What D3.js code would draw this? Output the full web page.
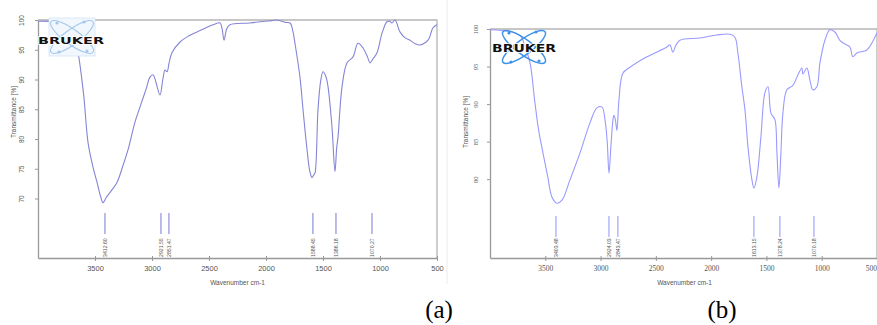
<!DOCTYPE html>
<html><head><meta charset="utf-8">
<script src="https://cdn.jsdelivr.net/npm/d3@7"></script>
<style>body{margin:0;background:#fff}svg{display:block}</style>
</head><body>
<svg id="c" width="877" height="325"></svg>
<script>
// ---------- DATA ----------
const waveA = [4000,3800,3720,3680,3649,3600,3561,3520,3482,3450,3430,3400,3350,3307,3250,3210,3150,3105,3050,3018,2991,2965,2930,2905,2886,2868,2850,2825,2754,2680,2605,2465,2403,2385,2368,2345,2316,2140,1950,1904,1830,1789,1763,1746,1702,1675,1640,1615,1596,1580,1570,1544,1520,1500,1475,1456,1421,1395,1380,1368,1333,1289,1237,1193,1149,1110,1088,1060,1026,982,939,915,895,868,825,780,737,690,649,579,535,500];
const transA = [99.8,99.5,98.3,96.8,94.5,87.5,79.4,75.5,72.7,70.3,69.3,70.2,71.5,72.7,75.8,78.2,82.8,85.4,88.5,90.4,90.8,89.5,87.4,90.0,91.6,91.3,92.8,94.5,96.3,97.3,98.0,99.2,99.5,98.5,96.6,98.5,99.2,99.5,99.9,100,99.6,99.5,98.0,96.1,90.4,84.9,78.2,74.5,73.5,74.0,74.3,84.9,89.8,91.3,90.5,88.8,82.0,74.5,78.5,80.4,88.8,92.8,93.8,96.1,95.3,93.8,92.8,93.5,94.5,97.8,99.7,99.8,99.5,100,98.0,97.0,96.6,96.0,95.8,96.6,98.7,99.2];
const peaksA = [3412.60, 2921.55, 2851.47, 1588.45, 1386.18, 1070.27];

const waveB = [4000,3800,3720,3680,3638,3593,3560,3521,3480,3439,3394,3349,3277,3186,3096,3033,2987,2960,2940,2924,2906,2888,2879,2866,2852,2834,2798,2734,2581,2400,2373,2346,2320,2282,2101,1948,1830,1785,1758,1722,1694,1667,1631,1613,1586,1550,1514,1486,1459,1423,1405,1387,1369,1351,1315,1260,1215,1179,1170,1134,1107,1080,1044,1016,971,926,881,836,790,745,718,682,592,540,500];
const transB = [99.9,99.6,99.0,97.5,95.5,90.1,86.5,83.5,80.5,77.6,76.8,77.2,79.9,83.5,87.5,89.5,89.6,87.9,85.0,80.8,84.5,87.9,88.5,87.9,86.5,90.5,94.1,94.9,96.3,97.6,97.9,96.9,97.8,98.5,98.8,99.2,99.3,98.9,96.8,92.3,89.2,84.3,79.9,78.8,80.3,85.6,91.5,92.3,88.8,87.9,83.5,78.8,83.5,88.8,91.9,92.5,93.9,94.8,94.0,94.8,93.2,91.9,92.3,95.5,98.5,99.9,99.6,98.5,98.0,97.6,96.3,96.8,97.2,98.3,99.5];
const peaksB = [3403.48, 2924.03, 2843.47, 1613.15, 1378.24, 1070.18];

const xTicks = [3500,3000,2500,2000,1500,1000,500];
const yTicksA = [100,95,90,85,80,75,70];
const yTicksB = [100,95,90,85,80];
const xTitle = "Wavenumber cm-1";
const yTitle = "Transmittance [%]";
const captions = ["(a)", "(b)"];

// ---------- DRAW ----------
const svg = d3.select("#c");

// faint separator between the two images
svg.append("line").attr("x1",447).attr("x2",447).attr("y1",0).attr("y2",284)
  .attr("stroke","#ececec").attr("stroke-width",1);

function panel(cfg){
  const {waves, trans, peaks, x0, x1, yTop, yBot, yDom, yTicks, color, font, logo} = cfg;
  const x = d3.scaleLinear().domain([4000,500]).range([x0,x1]);
  const y = d3.scaleLinear().domain(yDom).range([yBot,yTop]);
  const g = svg.append("g");

  // frame (top/right)
  g.append("path").attr("d",`M${x0},${yTop}H${x1}V${yBot}`)
    .attr("fill","none").attr("stroke","#b5b5b5").attr("stroke-width",1.3);

  // x axis
  const xa = g.append("g").attr("transform",`translate(0,${yBot})`)
    .call(d3.axisBottom(x).tickValues(xTicks).tickSize(3).tickSizeOuter(0).tickFormat(d3.format("d")));
  xa.select(".domain").attr("stroke","#999").attr("stroke-width",1.3);
  xa.selectAll(".tick line").attr("stroke","#999").attr("y1",-2);
  xa.selectAll(".tick text").attr("font-family",font).attr("font-size",7.5).attr("fill","#555").attr("dy","0.9em");
  if (cfg.lastEnd) {
    xa.selectAll(".tick text").filter(d=>d===500).attr("text-anchor","end").attr("x",877-x(500)-0.5);
  }

  // y axis
  const ya = g.append("g").attr("transform",`translate(${x0},0)`)
    .call(d3.axisLeft(y).tickValues(yTicks).tickSize(3).tickSizeOuter(0).tickFormat(d3.format("d")));
  ya.select(".domain").attr("stroke","#999").attr("stroke-width",1.3);
  ya.selectAll(".tick line").attr("stroke","#999");
  ya.selectAll(".tick text").attr("font-family",font).attr("font-size",6.5).attr("fill","#555")
    .attr("text-anchor","middle").attr("x",0).attr("dy",0)
    .attr("transform",`translate(${cfg.yLabDx},0) rotate(-90)`);

  // axis titles
  g.append("text").attr("x",(x0+x1)/2 - cfg.titleShift).attr("y",yBot+27)
    .attr("text-anchor","middle").attr("font-family","Liberation Sans, Arial, sans-serif")
    .attr("font-size",6.5).attr("fill","#555").text(xTitle);
  g.append("text").attr("transform",`translate(${x0-22},${cfg.yTitleY}) rotate(-90)`)
    .attr("text-anchor","middle").attr("font-family","Liberation Sans, Arial, sans-serif")
    .attr("font-size",6.5).attr("fill","#555").text(yTitle);

  // spectrum
  const line = d3.line().x((d,i)=>x(waves[i])).y((d,i)=>y(trans[i])).curve(d3.curveCatmullRom.alpha(0.5));
  g.append("path").datum(trans).attr("d",line).attr("fill","none")
    .attr("stroke",color).attr("stroke-width",1.1).attr("stroke-linejoin","round");

  // peak markers
  const pk = g.selectAll(".pk").data(peaks).join("g").attr("transform",d=>`translate(${x(d)},0)`);
  pk.append("line").attr("y1",cfg.pkTop).attr("y2",cfg.pkTop+21).attr("stroke",color).attr("stroke-width",1.1);
  pk.append("text").attr("transform",`translate(2,${yBot-1}) rotate(-90)`)
    .attr("font-family","Liberation Sans, Arial, sans-serif").attr("font-size",5.2).attr("fill","#555")
    .text(d=>d.toFixed(2));

  // logo
  const L = g.append("g").attr("transform",`translate(${logo.cx},${logo.cy})`);
  if (logo.box) {
    L.append("rect").attr("x",-23).attr("y",-19).attr("width",46).attr("height",38)
      .attr("fill","#f1f7fd").attr("stroke","#d3e4f5").attr("stroke-width",0.8);
  }
  [-36, 36].forEach(a=>{
    L.append("ellipse").attr("rx",26).attr("ry",7.5).attr("transform",`rotate(${a})`)
      .attr("fill","none").attr("stroke",logo.color).attr("stroke-width",logo.sw);
  });
  [[-15,-14],[15,14],[-13,15],[12,-15]].forEach(p=>{
    L.append("circle").attr("cx",p[0]).attr("cy",p[1]).attr("r",1.6).attr("fill",logo.color);
  });
  g.append("text").attr("x",logo.tx).attr("y",logo.ty).attr("textLength",logo.tw).attr("lengthAdjust","spacingAndGlyphs")
    .attr("font-family","DejaVu Sans, sans-serif").attr("font-weight","bold")
    .attr("font-size",logo.fs).attr("fill","#111")
    .attr("stroke","#fff").attr("stroke-width",1.5).attr("paint-order","stroke")
    .text("BRUKER");
}

panel({waves:waveA, trans:transA, peaks:peaksA, x0:38, x1:437, yTop:20, yBot:258, yDom:[60,100],
  yTicks:yTicksA, color:"#8585d6", font:"Liberation Sans, Arial, sans-serif", titleShift:0, yTitleY:112, pkTop:213,
  yLabDx:-14, lastEnd:false,
  logo:{cx:72, cy:37, color:"#a3c7ec", sw:1.1, box:true, tx:38, ty:43.5, fs:9.5, tw:66}});

panel({waves:waveB, trans:transB, peaks:peaksB, x0:490, x1:877, yTop:29, yBot:258, yDom:[69.5,100],
  yTicks:yTicksB, color:"#9a9aff", font:"Liberation Serif, Times New Roman, serif", titleShift:-1, yTitleY:122, pkTop:216,
  yLabDx:-12, lastEnd:true,
  logo:{cx:524, cy:47, color:"#3d93ea", sw:1.5, box:false, tx:492, ty:52, fs:10, tw:64}});

// captions
svg.selectAll(".cap").data(captions).join("text")
  .attr("x",(d,i)=>[439,722][i]).attr("y",318).attr("text-anchor","middle")
  .attr("font-family","Liberation Serif, Times New Roman, serif").attr("font-size",25).attr("fill","#000")
  .text(d=>d);
</script>
</body></html>
